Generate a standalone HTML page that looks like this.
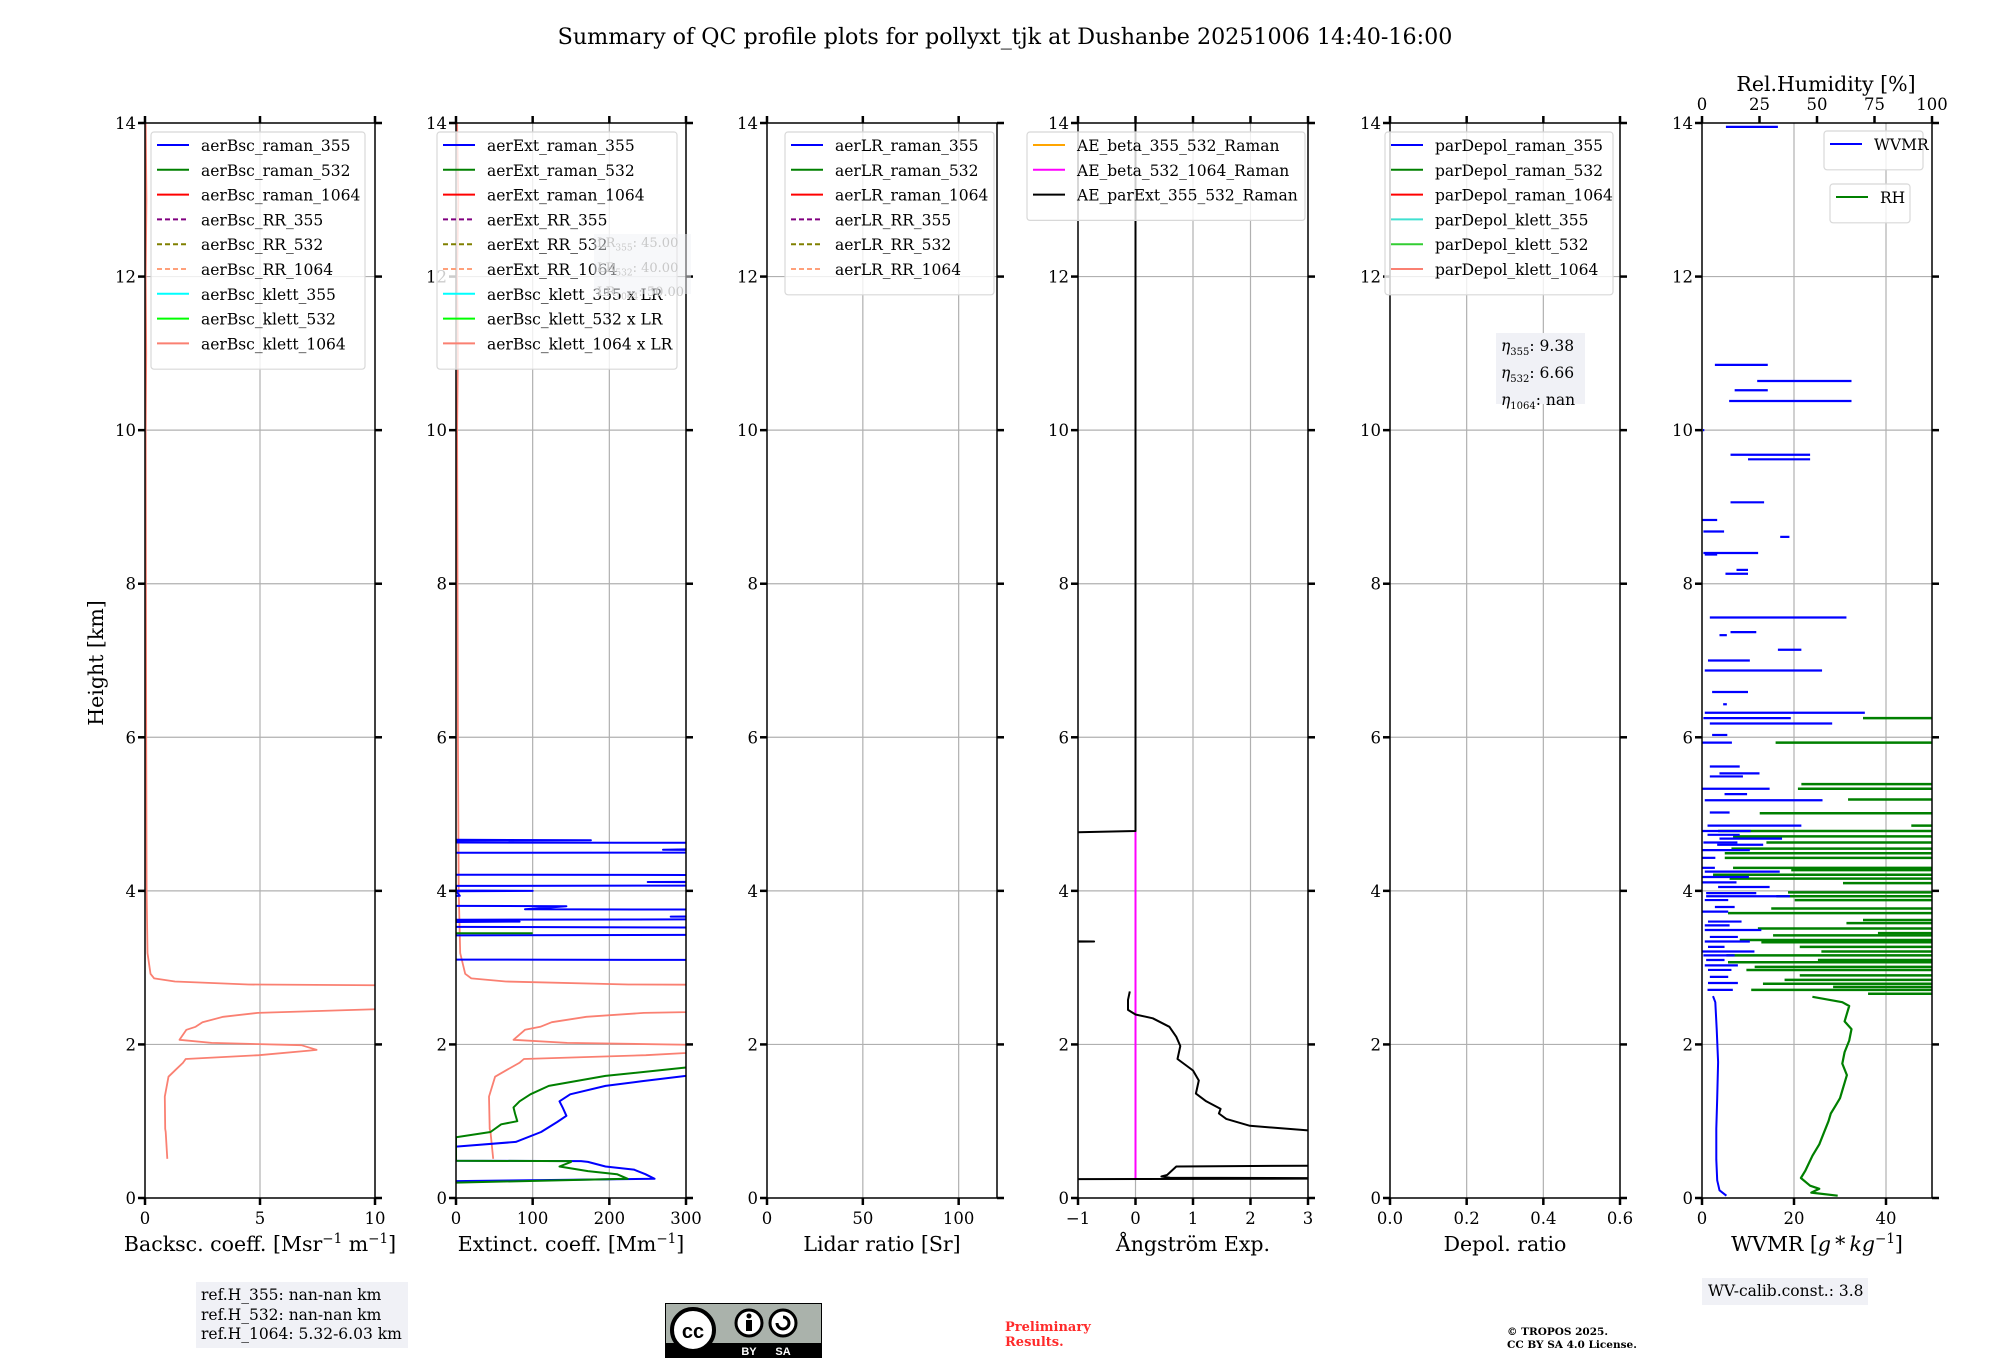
<!DOCTYPE html>
<html><head><meta charset="utf-8"><style>
html,body{margin:0;padding:0;background:#fff;}
svg{display:block;font-family:"DejaVu Serif","Liberation Serif",serif;}
</style></head><body>
<svg id="fig" width="2000" height="1360" viewBox="0 0 2000 1360" xmlns="http://www.w3.org/2000/svg">
<rect width="2000" height="1360" fill="#fff"/>
<text x="1005" y="44" font-size="22.2" text-anchor="middle">Summary of QC profile plots for pollyxt_tjk at Dushanbe 20251006 14:40-16:00</text>
<text transform="translate(103,663) rotate(-90)" font-size="20.5" text-anchor="middle">Height [km]</text>
<g id="panels"></g>
<g id="overlays"></g>
</svg>
<script>
// ---------- data ----------
const heightTicks = [0,2,4,6,8,10,12,14];
const bscTicks = [0,5,10];
const extTicks = [0,100,200,300];
const lrTicks = [0,50,100];
const aeTicks = [-1,0,1,2,3];
const depolTicks = [0.0,0.2,0.4,0.6];
const depolTickLabels = ["0.0","0.2","0.4","0.6"];
const wvTicks = [0,20,40];
const rhTicks = [0,25,50,75,100];
const lrKlett1064 = 50;

const bscKlett1064H = [0.51,0.86,0.9,1.32,1.58,1.67,1.76,1.81,1.86,1.92,1.93,1.99,2.02,2.06,2.19,2.23,2.29,2.36,2.41,2.46,2.6,2.77,2.78,2.82,2.86,2.92,3.19,4.0,6.0,8.0,10.0,11.0,12.0,13.0,14.0];
const bscKlett1064V = [0.97,0.9,0.88,0.86,1.02,1.33,1.65,1.77,4.95,7.14,7.46,6.8,2.9,1.5,1.8,2.2,2.5,3.4,4.9,10.2,25,10.2,4.5,1.3,0.4,0.24,0.11,0.07,0.05,0.04,0.03,0.05,0.03,0.06,0.03];

const ext355H = [0.22,0.25,0.31,0.37,0.41,0.47,0.48,0.485,0.67,0.73,0.86,0.99,1.07,1.18,1.26,1.35,1.46,1.52,1.59,1.75,3.10,3.105,3.42,3.43,3.52,3.53,3.595,3.6,3.605,3.625,3.63,3.66,3.665,3.67,3.755,3.76,3.8,3.805,3.93,3.935,3.995,4.0,4.005,4.065,4.07,4.11,4.115,4.12,4.205,4.21,4.495,4.5,4.53,4.535,4.56,4.625,4.63,4.655,4.66,4.665];
const ext355V = [0,259,247,232,195,172,163,0,0,78,111,132,144,139,135,149,195,242,300,420,420,-5,-5,420,420,-5,-5,83,-5,-5,420,420,280,420,420,90,144,-5,-5,5,0,100,0,0,420,420,250,420,420,-5,-5,420,420,270,420,420,-5,-5,176,-5];
const ext532H = [0.2,0.25,0.31,0.35,0.41,0.47,0.48,0.485,0.79,0.86,0.96,1.0,1.1,1.18,1.26,1.35,1.46,1.59,1.7,1.8,null,3.447,3.447];
const ext532V = [0,224,210,172,135,150,150,0,0,45,59,80,77,75,83,97,121,195,300,400,null,0,100];

const aeParExtH = [0.245,0.255,0.265,0.28,0.3,0.41,0.43,null,0.86,0.88,0.94,1.03,1.1,1.16,1.26,1.36,1.53,1.66,1.81,1.98,2.1,2.23,2.34,2.39,2.45,2.58,2.69,null,3.33,3.34,3.35,null,4.73,4.78,14.0];
const aeParExtV = [-2,5,0.6,0.45,0.55,0.71,5,null,5,3,1.99,1.58,1.45,1.48,1.23,1.05,1.1,1.0,0.73,0.78,0.71,0.59,0.3,0,-0.13,-0.13,-0.1,null,-3,-0.72,-3,null,-3,0,0];
const aeBeta532H = [0.25,4.78];
const aeBeta532V = [0,0];

const wvmrH = [0.03,0.1,0.23,0.5,0.9,1.3,1.77,2.2,2.55,2.63];
const wvmrV = [5.3,3.8,3.3,3.1,3.1,3.3,3.5,3.2,2.9,2.4];
const rhH = [0.03,0.07,0.12,0.16,0.26,0.36,0.55,0.7,0.85,1.0,1.1,1.2,1.3,1.4,1.5,1.6,1.75,1.9,2.05,2.2,2.3,2.4,2.5,2.55,2.62];
const rhV = [59,47.5,51,47,43,45,48,51,53,55,56,58,60,61,62,63,61,62,64,65,62,63,64,61,48];
const wvSegH = [13.95,10.85,10.64,10.52,10.38,10.0,9.68,9.62,9.06,8.83,8.68,8.61,8.40,8.38,8.18,8.13,7.56,7.37,7.33,7.14,7.0,6.87,6.59,6.43,6.32,6.25,6.18,6.03,5.93,5.62,5.53,5.49,5.33,5.26,5.18,5.02,4.85,4.78,4.73,4.68,4.63,4.6,4.53,4.43,4.30,4.25,4.18,4.11,4.05,3.97,3.93,3.88,3.79,3.73,3.6,3.55,3.49,3.4,3.34,3.27,3.21,3.16,3.1,3.03,2.97,2.88,2.8,2.71];
const wvSegMin = [5.2,2.8,12,7.1,5.9,0.2,6.2,10,6.2,0,0.3,17,0.3,0.6,7.5,5.1,1.7,6.2,3.8,16.5,1.3,0.6,2.2,4.6,0.6,0.3,1.7,2.2,0,1.7,3.8,1.7,0,4.9,0.6,1.7,1.2,0,1.2,3.8,0.3,3.3,0,0,0,0.6,0,0,3.5,0.9,0.9,0.6,2.8,0,1.3,0.6,0.6,1.7,0.6,1.3,0,0.3,0.9,0.6,1.3,1.7,1.3,1.2];
const wvSegMax = [16.5,14.3,32.5,14.3,32.5,0.5,23.5,23.5,13.5,3.3,4.8,19,12.2,3.3,10,10,31.4,11.8,5.4,21.6,10.4,26.1,10,5.4,35.4,19.3,28.3,5.5,6.5,8.2,12.5,8.9,14.7,9.8,26.2,6,21.6,10.6,8.2,17.4,7.7,13.3,10.4,2.9,2.8,16.9,10.2,7.5,14.7,11.8,19.1,5.7,7.1,5.7,8.6,6,12.9,7.8,10.4,4.9,11.4,7.1,4.9,7.8,6.4,5.7,7.8,6.7];
const rhSegH = [6.25,5.93,5.39,5.33,5.19,5.01,4.85,4.78,4.71,4.63,4.55,4.49,4.43,4.30,4.27,4.21,4.16,4.10,3.98,3.93,3.88,3.77,3.71,3.62,3.58,3.51,3.45,3.42,3.36,3.33,3.27,3.21,3.16,3.10,3.07,3.01,2.97,2.9,2.84,2.79,2.75,2.71,2.66];
const rhSegMin = [70,32,43.2,41.7,63.5,25.1,91,7,13.5,28,12.8,9.9,9.9,13.5,38.8,4.8,12,61.3,37.4,32.3,40.3,30.1,11.3,70,62.8,24.3,76.5,30.9,16.4,25.8,42.5,51.9,10.6,50.4,11.3,22.9,19.3,42.5,35.9,26.5,57,21.4,72.2];

// ---------- layout ----------
const NS="http://www.w3.org/2000/svg";
const Y0=1198, Y1=123, HMAX=14;
function yScale(h){return Y0-(h/HMAX)*(Y0-Y1);}
const panels=[
 {id:'bsc',left:145,min:0,max:10,ticks:bscTicks,xlabel:['Backsc. coeff. [Msr','−1',' m','−1',']']},
 {id:'ext',left:456,min:0,max:300,ticks:extTicks,xlabel:['Extinct. coeff. [Mm','−1',']']},
 {id:'lr',left:767,min:0,max:120,ticks:lrTicks,xlabel:['Lidar ratio [Sr]']},
 {id:'ae',left:1078,min:-1,max:3,ticks:aeTicks,xlabel:['Ångström Exp.']},
 {id:'depol',left:1390,min:0,max:0.6,ticks:depolTicks,labels:depolTickLabels,xlabel:['Depol. ratio']},
 {id:'wv',left:1702,min:0,max:50,ticks:wvTicks,xlabel:null}
];
const W=230;
function xScaleOf(p){return v=>p.left+(v-p.min)/(p.max-p.min)*W;}
const root=document.getElementById('panels');
function mk(tag,attrs,parent){const e=document.createElementNS(NS,tag);for(const k in attrs)e.setAttribute(k,attrs[k]);(parent||root).appendChild(e);return e;}
function pathFrom(hs,vs,xs){let d='',pen=false;for(let i=0;i<hs.length;i++){if(hs[i]===null||vs[i]===null){pen=false;continue;}d+=(pen?'L':'M')+xs(vs[i]).toFixed(1)+' '+yScale(hs[i]).toFixed(1);pen=true;}return d;}

panels.forEach((p,pi)=>{
 const g=mk('g',{});
 
 
 const xs=xScaleOf(p);
 const cp=mk('clipPath',{id:'clip-'+p.id},g);
 mk('rect',{x:p.left,y:Y1,width:W,height:Y0-Y1},cp);
 heightTicks.forEach(h=>{if(h>0&&h<HMAX){const l=mk('line',{x1:p.left,x2:p.left+W,y1:yScale(h),y2:yScale(h),stroke:'#b0b0b0','stroke-width':1.2},g);}});
 p.ticks.forEach(t=>{const x=xs(t);if(x>p.left+1&&x<p.left+W-1){const l=mk('line',{x1:x,x2:x,y1:Y1,y2:Y0,stroke:'#b0b0b0','stroke-width':1.2},g);}});
 p.g=g;p.xs=xs;
});

function drawSeries(p,hs,vs,color,w,name){
 const e=mk('path',{d:pathFrom(hs,vs,p.xs),fill:'none',stroke:color,'stroke-width':w,'stroke-linejoin':'round','clip-path':'url(#clip-'+p.id+')'},p.g);
 
 
}
drawSeries(panels[0],bscKlett1064H,bscKlett1064V,'#fa8072',1.8,'aerBsc-klett-1064-line');
drawSeries(panels[1],bscKlett1064H,bscKlett1064V.map(v=>v*lrKlett1064),'#fa8072',1.8,'aerBsc-klett-1064-x-lr-line');
drawSeries(panels[1],ext355H,ext355V,'#0000ff',2,'aerExt-raman-355-line');
drawSeries(panels[1],ext532H,ext532V,'#008000',2,'aerExt-raman-532-line');
drawSeries(panels[3],aeBeta532H,aeBeta532V,'#ff00ff',2,'AE-beta-532-1064-line');
drawSeries(panels[3],aeParExtH,aeParExtV,'#000000',2,'AE-parExt-355-532-line');
const pw=panels[5];
const rhX=v=>pw.left+v/100*W;
const rhP={xs:rhX,g:pw.g,id:'wv'};
drawSeries(pw,wvmrH,wvmrV,'#0000ff',2,'wvmr-line');
drawSeries(rhP,rhH,rhV,'#008000',2.2,'rh-line');
for(let i=0;i<rhSegH.length;i++){
 const l=mk('line',{x1:rhX(rhSegMin[i]),x2:rhX(100),y1:yScale(rhSegH[i]),y2:yScale(rhSegH[i]),stroke:'#008000','stroke-width':2.5},pw.g);
 
 
}
for(let i=0;i<wvSegH.length;i++){
 const l=mk('line',{x1:pw.xs(wvSegMin[i]),x2:pw.xs(wvSegMax[i]),y1:yScale(wvSegH[i]),y2:yScale(wvSegH[i]),stroke:'#0000ff','stroke-width':2.2},pw.g);
 
 
}

panels.forEach(p=>{
 const g=p.g,xs=p.xs;
 const sp=mk('rect',{x:p.left,y:Y1,width:W,height:Y0-Y1,fill:'none',stroke:'#000','stroke-width':1.5},g);
 
 
 heightTicks.forEach(h=>{
  const y=yScale(h);
  mk('line',{x1:p.left-7,x2:p.left,y1:y,y2:y,stroke:'#000','stroke-width':2.5},g);
  mk('line',{x1:p.left+W,x2:p.left+W+7,y1:y,y2:y,stroke:'#000','stroke-width':2.5},g);
  const t=mk('text',{x:p.left-9,y:y+6,'font-size':16.5,'text-anchor':'end'},g);
  t.textContent=String(h);
  
  
 });
 p.ticks.forEach((v,i)=>{
  const x=xs(v);
  mk('line',{x1:x,x2:x,y1:Y0,y2:Y0+7,stroke:'#000','stroke-width':2.5},g);
  if(p.id!=='wv') mk('line',{x1:x,x2:x,y1:Y1-7,y2:Y1,stroke:'#000','stroke-width':2.5},g);
  const t=mk('text',{x:x,y:Y0+26,'font-size':16.5,'text-anchor':'middle'},g);
  t.textContent=p.labels?p.labels[i]:(v<0?'\u2212'+Math.abs(v):String(v));
  
  
 });
 if(p.xlabel){
  const t=mk('text',{x:p.left+W/2,y:1251,'font-size':20.5,'text-anchor':'middle'},g);
  p.xlabel.forEach((s,i)=>{const ts=mk('tspan',{},t);if(i%2===1){ts.setAttribute('baseline-shift','super');ts.setAttribute('font-size','13.5');}ts.textContent=s;});
  
  
 }
});
rhTicks.forEach(v=>{
 const x=rhX(v);
 mk('line',{x1:x,x2:x,y1:Y1-7,y2:Y1,stroke:'#000','stroke-width':2.5},pw.g);
 const t=mk('text',{x:x,y:110,'font-size':16.5,'text-anchor':'middle'},pw.g);
 t.textContent=String(v);
 
 
});

const ov=document.getElementById('overlays');
function legend(name,x,y,w,entries){
 const g=mk('g',{},ov);
 
 
 const h=entries.length*24.8+14;
 mk('rect',{x:x,y:y,width:w,height:h,rx:3,fill:'rgba(255,255,255,0.8)',stroke:'#d8d8d8','stroke-width':1.2},g);
 entries.forEach((e,i)=>{
  const yy=y+13+i*24.8;
  mk('line',{x1:x+6,x2:x+38,y1:yy,y2:yy,stroke:e[1],'stroke-width':2,'stroke-dasharray':e[2]?'5,3':'none'},g);
  const t=mk('text',{x:x+50,y:yy+6,'font-size':15.5},g);
  t.textContent=e[0];
  
  
 });
}
legend('bsc-legend',151,132,214,[['aerBsc_raman_355','#0000ff'],['aerBsc_raman_532','#008000'],['aerBsc_raman_1064','#ff0000'],['aerBsc_RR_355','#800080',1],['aerBsc_RR_532','#808000',1],['aerBsc_RR_1064','#ffa07a',1],['aerBsc_klett_355','#00ffff'],['aerBsc_klett_532','#00ff00'],['aerBsc_klett_1064','#fa8072']]);
legend('ext-legend',437,132,240,[['aerExt_raman_355','#0000ff'],['aerExt_raman_532','#008000'],['aerExt_raman_1064','#ff0000'],['aerExt_RR_355','#800080',1],['aerExt_RR_532','#808000',1],['aerExt_RR_1064','#ffa07a',1],['aerBsc_klett_355 x LR','#00ffff'],['aerBsc_klett_532 x LR','#00ff00'],['aerBsc_klett_1064 x LR','#fa8072']]);
legend('lr-legend',785,132,209,[['aerLR_raman_355','#0000ff'],['aerLR_raman_532','#008000'],['aerLR_raman_1064','#ff0000'],['aerLR_RR_355','#800080',1],['aerLR_RR_532','#808000',1],['aerLR_RR_1064','#ffa07a',1]]);
legend('ae-legend',1027,132,278,[['AE_beta_355_532_Raman','#ffa500'],['AE_beta_532_1064_Raman','#ff00ff'],['AE_parExt_355_532_Raman','#000000']]);
legend('depol-legend',1385,132,228,[['parDepol_raman_355','#0000ff'],['parDepol_raman_532','#008000'],['parDepol_raman_1064','#ff0000'],['parDepol_klett_355','#40e0d0'],['parDepol_klett_532','#32cd32'],['parDepol_klett_1064','#fa8072']]);
legend('wvmr-legend',1824,131,99,[['WVMR','#0000ff']]);
legend('rh-legend',1830,184,80,[['RH','#008000']]);
</script>
<div style="position:absolute;left:0;top:0;width:2000px;height:1360px;pointer-events:none;font-family:'DejaVu Serif','Liberation Serif',serif;">
 <div style="position:absolute;left:594px;top:234px;width:94px;height:60px;background:rgba(240,241,246,0.5);color:#c8c8c8;font-size:13px;line-height:19px;padding-left:3px;">LR<sub style="font-size:9px">355</sub>: 45.00<br>LR<sub style="font-size:9px">532</sub>: 40.00<br>LR<sub style="font-size:9px">1064</sub>: 50.00</div>
 <div style="position:absolute;left:1496px;top:333px;width:89px;height:71px;background:#f0f1f6;font-size:15.5px;line-height:20px;padding:3px 0 0 5px;box-sizing:border-box;"><i>η</i><sub style="font-size:10px">355</sub>: 9.38<br><i>η</i><sub style="font-size:10px">532</sub>: 6.66<br><i>η</i><sub style="font-size:10px">1064</sub>: nan</div>
 <div style="position:absolute;left:1706px;top:72px;width:240px;text-align:center;font-size:20.5px;">Rel.Humidity [%]</div>
 <div style="position:absolute;left:1692px;top:1231px;width:250px;text-align:center;font-size:20.5px;white-space:nowrap;">WVMR [<i>g</i>&thinsp;*&thinsp;<i>kg</i><sup style="font-size:13.5px">−1</sup>]</div>
 <div style="position:absolute;left:196px;top:1282px;width:212px;height:66px;background:#f0f1f6;font-size:15.5px;line-height:19.5px;padding:4px 0 0 5px;box-sizing:border-box;">ref.H_355: nan-nan km<br>ref.H_532: nan-nan km<br>ref.H_1064: 5.32-6.03 km</div>
 <div style="position:absolute;left:1702px;top:1278px;width:166px;height:27px;background:#f0f1f6;font-size:15.5px;line-height:27px;padding-left:6px;box-sizing:border-box;">WV-calib.const.: 3.8</div>
 <div style="position:absolute;left:1005px;top:1320px;color:#ff2a2a;font-weight:bold;font-size:13px;line-height:15px;">Preliminary<br>Results.</div>
 <div style="position:absolute;left:1507px;top:1326px;font-weight:bold;font-size:10.5px;line-height:13px;">© TROPOS 2025.<br>CC BY SA 4.0 License.</div>
 <svg style="position:absolute;left:665px;top:1303px;" width="157" height="55" viewBox="0 0 157 55">
  <rect x="0.5" y="0.5" width="156" height="54" fill="#aab2ab" stroke="#000" stroke-width="1"/>
  <rect x="1" y="40" width="155" height="14" fill="#000"/>
  <circle cx="28" cy="27" r="21" fill="#fff" stroke="#000" stroke-width="4"/>
  <text x="28" y="35" font-size="20" font-weight="bold" text-anchor="middle" font-family="Liberation Sans, sans-serif">cc</text>
  <circle cx="84" cy="20" r="13" fill="#fff" stroke="#000" stroke-width="3"/>
  <circle cx="84" cy="13" r="2.5" fill="#000"/>
  <rect x="81" y="17" width="6" height="11" fill="#000"/>
  <circle cx="118" cy="20" r="13" fill="#fff" stroke="#000" stroke-width="3"/>
  <path d="M112 20 A6 6 0 1 0 118 14" fill="none" stroke="#000" stroke-width="3"/>
  <text x="84" y="52" font-size="11" fill="#fff" text-anchor="middle" font-family="Liberation Sans, sans-serif" font-weight="bold">BY</text>
  <text x="118" y="52" font-size="11" fill="#fff" text-anchor="middle" font-family="Liberation Sans, sans-serif" font-weight="bold">SA</text>
 </svg>
</div>
</body></html>
